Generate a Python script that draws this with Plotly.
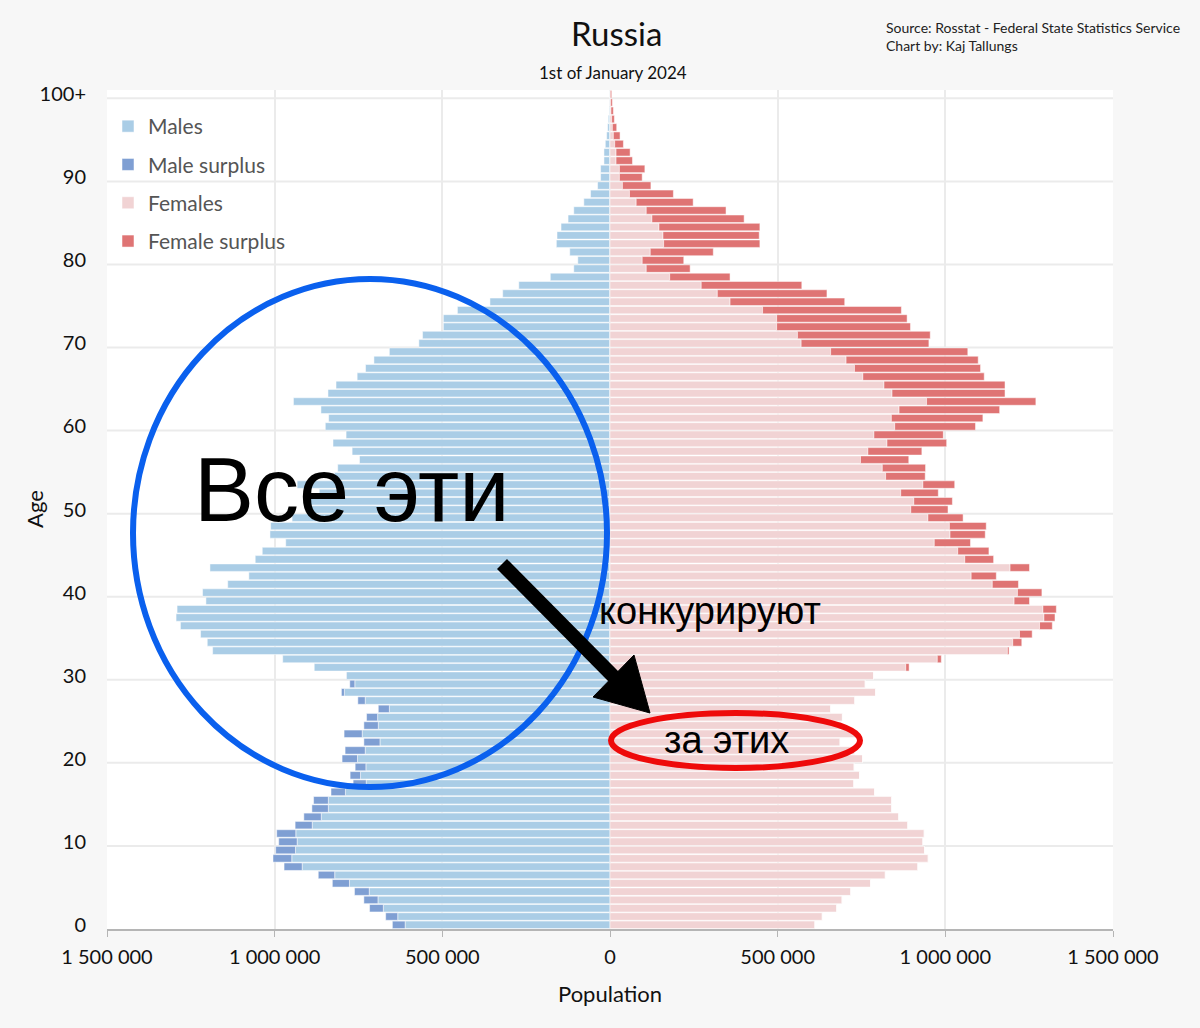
import plotly.graph_objects as go

# ---------------- data (thousands of people) ----------------
ages = list(range(0, 101))

male_k = [649, 669, 717, 734, 762, 828, 870, 972, 1005, 997,
          988, 994, 939, 913, 889, 884, 832, 766, 775, 760,
          799, 790, 734, 793, 734, 726, 691, 752, 801, 776,
          787, 882, 976, 1185, 1201, 1221, 1281, 1294, 1291, 1205,
          1215, 1140, 1077, 1193, 1058, 1037, 967, 1014, 1012, 948,
          897, 906, 867, 933, 822, 812, 747, 769, 826, 787,
          849, 839, 862, 944, 841, 817, 754, 729, 704, 658,
          570, 559, 497, 497, 455, 358, 320, 272, 178, 108,
          96, 120, 160, 158, 146, 125, 108, 78, 58, 37,
          28, 28, 18, 18, 14, 10, 7, 5, 3, 2, 1]

female_k = [611, 633, 676, 692, 718, 777, 821, 918, 949, 938,
            933, 937, 888, 861, 840, 840, 789, 727, 744, 728,
            753, 730, 686, 739, 691, 693, 658, 730, 792, 761,
            786, 892, 988, 1190, 1228, 1259, 1319, 1327, 1331, 1251,
            1288, 1218, 1152, 1251, 1144, 1130, 1075, 1119, 1122, 1053,
            1008, 1021, 979, 1028, 940, 941, 891, 930, 1004, 994,
            1090, 1112, 1162, 1270, 1178, 1178, 1116, 1105, 1098, 1067,
            951, 955, 896, 886, 869, 700, 647, 572, 358, 239,
            220, 308, 447, 445, 447, 400, 346, 248, 189, 122,
            96, 104, 67, 60, 40, 30, 20, 13, 10, 7, 5]

x_tick_vals = [-1500000, -1000000, -500000, 0, 500000, 1000000, 1500000]
x_tick_text = ["1 500 000", "1 000 000", "500 000", "0", "500 000", "1 000 000", "1 500 000"]
y_tick_vals = [0, 10, 20, 30, 40, 50, 60, 70, 80, 90, 100]
y_tick_text = ["0", "10", "20", "30", "40", "50", "60", "70", "80", "90", "100+"]

# ---------------- derived series ----------------
male = [m * 1000 for m in male_k]
female = [f * 1000 for f in female_k]
common = [min(m, f) for m, f in zip(male, female)]
male_surplus = [max(0, m - f) for m, f in zip(male, female)]
female_surplus = [max(0, f - m) for m, f in zip(male, female)]

C_MALE = "#aacde6"
C_MALE_SUR = "#7f9fd3"
C_FEM = "#f1d3d4"
C_FEM_SUR = "#df7474"

fig = go.Figure()
line = dict(color="white", width=0.5)
fig.add_trace(go.Bar(y=ages, x=[-c for c in common], orientation="h", name="Males",
                     marker=dict(color=C_MALE, line=line), legendgroup="a"))
fig.add_trace(go.Bar(y=ages, x=[-s for s in male_surplus], orientation="h", name="Male surplus",
                     marker=dict(color=C_MALE_SUR, line=line), legendgroup="b"))
fig.add_trace(go.Bar(y=ages, x=common, orientation="h", name="Females",
                     marker=dict(color=C_FEM, line=line), legendgroup="c"))
fig.add_trace(go.Bar(y=ages, x=female_surplus, orientation="h", name="Female surplus",
                     marker=dict(color=C_FEM_SUR, line=line), legendgroup="d"))

# ---------------- layout geometry ----------------
W, H = 1200, 1028
L, R, T, B = 107, 1113, 90, 929


def px(x):
    return (x - L) / (R - L)


def py(y):
    return (B - y) / (B - T)


FONT = "Lato, Carlito, sans-serif"
SANS = "Liberation Sans, Arial, sans-serif"

shapes = []
# horizontal grid lines between categories (every 10 years)
for a in y_tick_vals[1:]:
    shapes.append(dict(type="line", xref="paper", yref="y", x0=0, x1=1, y0=a - 0.5, y1=a - 0.5,
                       line=dict(color="#ebebeb", width=2), layer="below"))

# overlay drawings
shapes.append(dict(type="circle", xref="paper", yref="paper",
                   x0=px(133), x1=px(607), y0=py(787), y1=py(279),
                   line=dict(color="#0a60ee", width=6)))
shapes.append(dict(type="circle", xref="paper", yref="paper",
                   x0=px(611), x1=px(860), y0=py(768), y1=py(713),
                   line=dict(color="#ee0a0a", width=6)))
# arrow shaft
shapes.append(dict(type="line", xref="paper", yref="paper",
                   x0=px(502), y0=py(564), x1=px(616), y1=py(679),
                   line=dict(color="black", width=14)))
# arrow head
shapes.append(dict(type="path", xref="paper", yref="paper",
                   path=f"M {px(650)},{py(713)} L {px(593)},{py(697)} L {px(634)},{py(655)} Z",
                   fillcolor="black", line=dict(color="black", width=1)))


def note(text, x, y, size, family=FONT, color="#111", **kw):
    d = dict(text=text, x=px(x), y=py(y), xref="paper", yref="paper", showarrow=False,
             xanchor="center", yanchor="middle",
             font=dict(family=family, size=size, color=color))
    d.update(kw)
    return d


annotations = [
    note("Russia", 616, 33, 33),
    note("1st of January 2024", 613, 73, 17),
    dict(text="Source: Rosstat - Federal State Statistics Service<br>Chart by: Kaj Tallungs",
         x=px(884), y=py(37), xref="paper", yref="paper", showarrow=False,
         xanchor="left", yanchor="middle", align="left",
         font=dict(family=FONT, size=14, color="#222")),
    note("Population", 610, 993, 22),
    note("Age", 35, 509, 22, textangle=-90),
    note("Все эти", 352, 490, 90, family=SANS, color="black"),
    note("конкурируют", 710, 611, 38, family=SANS, color="black"),
    note("за этих", 726, 740, 38, family=SANS, color="black"),
]

fig.update_layout(
    width=W, height=H,
    margin=dict(l=L, r=W - R, t=T, b=H - B, autoexpand=False),
    paper_bgcolor="#f7f7f7", plot_bgcolor="white",
    barmode="relative", bargap=0.1,
    font=dict(family=FONT, size=20, color="#111"),
    showlegend=True,
    legend=dict(x=px(108), y=py(106), xanchor="left", yanchor="top",
                bgcolor="rgba(0,0,0,0)", font=dict(family=FONT, size=21, color="#555"),
                tracegroupgap=8, traceorder="grouped"),
    xaxis=dict(range=[-1500000, 1500000], tickvals=x_tick_vals, ticktext=x_tick_text,
               showgrid=True, gridcolor="#ebebeb", gridwidth=2, zeroline=False,
               showline=True, linecolor="#b5b5b5", linewidth=2,
               ticks="outside", ticklen=6, tickcolor="#b5b5b5", tickwidth=1,
               ticklabelstandoff=3,
               tickfont=dict(family=FONT, size=20, color="#111"), fixedrange=True),
    yaxis=dict(range=[-0.5, 100.5], tickvals=y_tick_vals, ticktext=y_tick_text,
               showgrid=False, zeroline=False, showline=False, ticks="",
               ticklabelstandoff=20,
               tickfont=dict(family=FONT, size=20, color="#111"), fixedrange=True),
    shapes=shapes, annotations=annotations,
)

fig.write_html("out.html", config={"displayModeBar": False},
               post_script="document.body.style.margin='0';")
